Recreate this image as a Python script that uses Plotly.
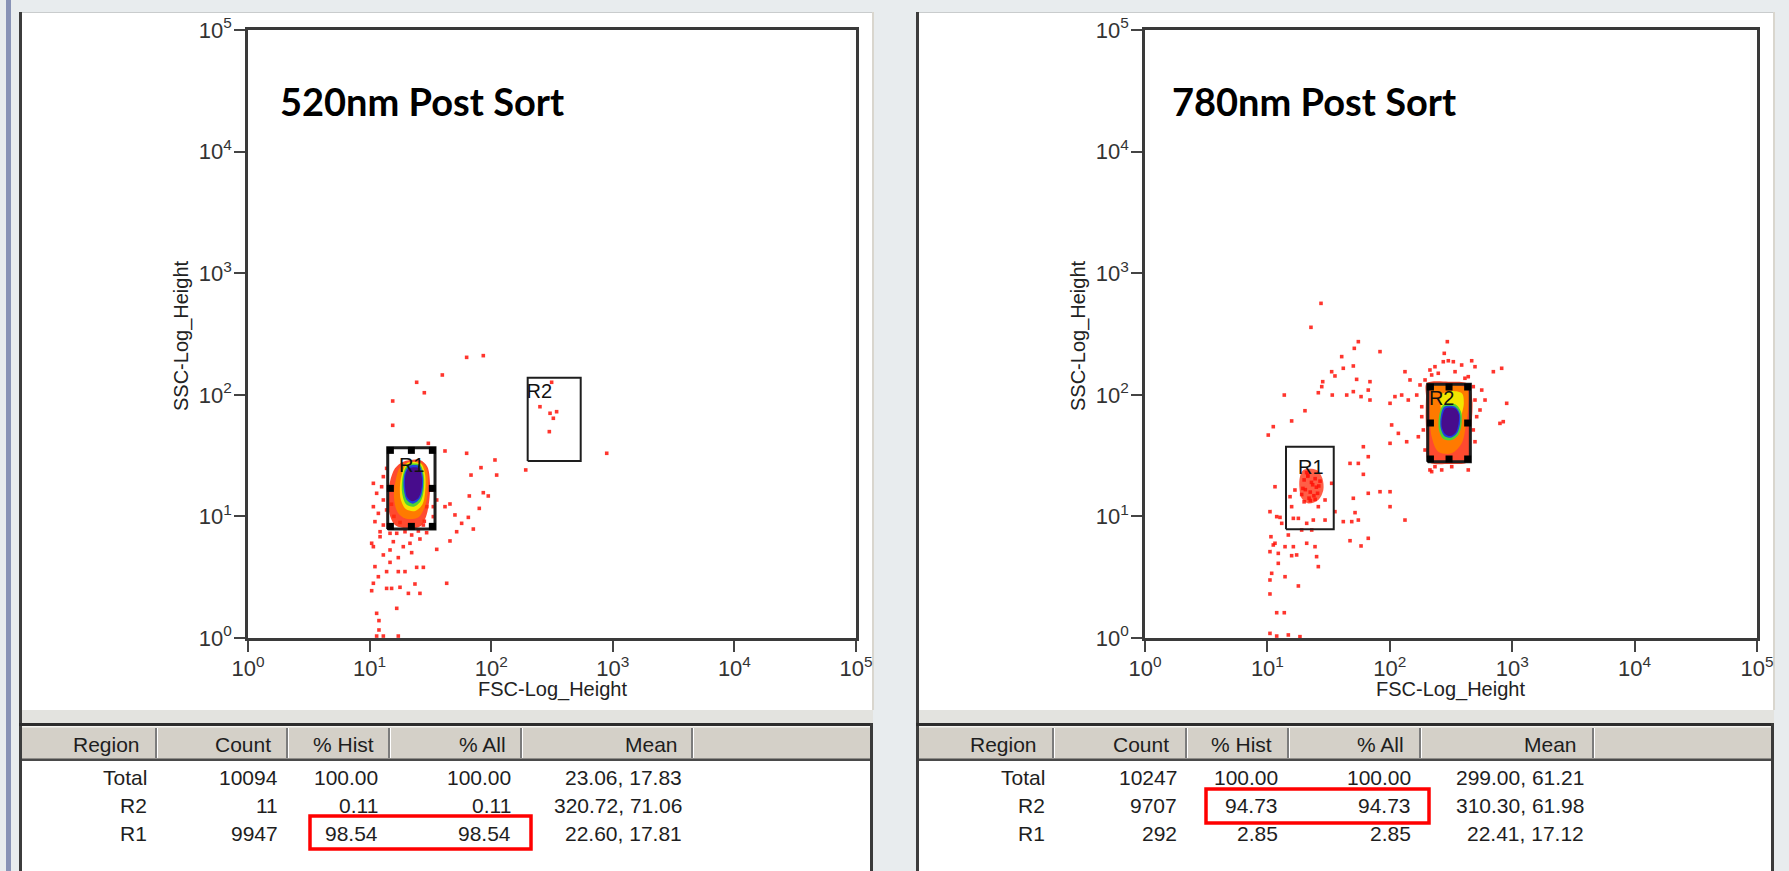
import numpy as np
import plotly.graph_objects as go

W, H = 1789, 871

# ---------------- data (log10 decades) ----------------
left_title = "520nm Post Sort"
right_title = "780nm Post Sort"
x_title = "FSC-Log_Height"
y_title = "SSC-Log_Height"
tick_vals = [1, 10, 100, 1000, 10000, 100000]
tick_text = ["10<sup>0</sup>", "10<sup>1</sup>", "10<sup>2</sup>", "10<sup>3</sup>", "10<sup>4</sup>", "10<sup>5</sup>"]

left_dot_fsc = [1.798, 1.935, 1.598, 1.387, 1.450, 1.190, 1.190, 1.483, 1.620, 1.798, 2.031, 1.916, 1.834, 2.045,
                2.284, 2.950, 1.820, 1.935, 1.976, 1.902, 1.620, 1.661, 1.702, 1.812, 1.757, 1.853, 1.716, 1.661,
                1.552, 1.469, 1.414, 1.346, 1.236, 1.168, 1.086, 1.017, 1.031, 1.113, 1.044, 1.072, 1.140, 1.236,
                1.291, 1.387, 1.442, 1.140, 1.181, 1.250, 1.373, 1.414, 1.319, 1.634, 1.031, 1.017, 1.058, 1.077,
                1.077, 1.058, 1.223, 1.113, 1.236, 1.332, 1.277, 1.195, 1.168, 1.401, 1.524, 1.524, 1.552, 1.031,
                1.058, 1.099, 1.113, 1.031, 1.072, 1.140, 1.044, 1.113, 1.086, 1.168, 1.223, 1.291, 1.346, 1.442,
                1.510, 1.113, 1.140, 2.497, 2.401, 2.484, 2.538, 2.511, 2.478, 1.25, 1.35, 1.45, 1.20, 1.30, 1.40,
                1.18, 1.47]
left_dot_ssc = [2.308, 2.322, 2.163, 2.103, 2.017, 1.949, 1.749, 1.601, 1.538, 1.519, 1.464, 1.401, 1.340, 1.340,
                1.382, 1.519, 1.168, 1.195, 1.168, 1.066, 1.080, 1.102, 1.012, 0.992, 0.943, 0.896, 0.874, 0.798,
                0.729, 0.866, 0.814, 0.702, 0.661, 0.622, 0.833, 0.779, 0.751, 0.683, 0.587, 0.504, 0.546, 0.546,
                0.546, 0.581, 0.581, 0.408, 0.408, 0.417, 0.444, 0.367, 0.367, 0.450, 0.450, 0.389, 0.203, 0.143,
                0.066, 0.016, 0.244, 0.016, 0.016, 0.779, 0.751, 0.792, 0.724, 0.880, 0.998, 1.080, 1.135, 1.272,
                1.190, 1.244, 1.135, 1.080, 1.025, 1.053, 0.957, 0.929, 0.874, 0.861, 0.861, 0.874, 0.847, 0.929,
                1.217, 1.327, 1.395, 2.103, 1.902, 1.848, 1.861, 1.807, 1.697, 0.95, 0.93, 0.96, 1.00, 1.00, 1.02,
                1.10, 1.08]

right_dot_fsc = [1.438, 1.356, 1.743, 1.710, 1.920, 1.607, 1.620, 1.702, 1.525, 1.552, 1.452, 1.444, 1.416, 1.530,
                 1.648, 1.702, 1.765, 1.838, 1.824, 1.838, 1.138, 1.307, 1.198, 1.048, 1.007, 1.729,
                 2.002, 2.042, 2.097, 2.151, 2.220, 2.247, 2.288, 2.342, 2.369, 2.437, 2.478, 2.519, 2.669, 2.696,
                 2.751, 2.778, 2.737, 2.846, 2.914, 2.955, 2.900, 2.927, 2.696, 2.369, 2.328, 2.138, 2.070, 2.015,
                 2.233, 2.261, 2.124, 2.165, 2.470, 2.445, 2.641, 2.261, 2.002,
                 2.328, 2.396, 2.533, 2.587, 2.614, 2.682, 2.696, 2.710, 2.682, 2.641, 2.288, 2.274, 2.342, 2.506,
                 2.424,
                 1.784, 1.824, 1.675, 1.743, 1.784, 1.920, 2.002, 1.824, 1.702, 2.002, 1.716, 1.620, 1.689, 1.743,
                 2.124, 1.675, 1.824, 1.765,
                 1.062, 1.021, 1.076, 1.103, 1.212, 1.253, 1.029, 1.048, 1.021, 1.089, 1.144, 1.212, 1.198, 1.239,
                 1.089, 1.402, 1.416, 1.035, 1.144, 1.021, 1.253, 1.021, 1.076, 1.138, 1.021, 1.076, 1.171, 1.266,
                 1.280, 1.362, 1.389, 1.471, 1.525, 1.552, 1.321, 1.117, 1.171, 1.062,
                 1.198, 1.416, 1.375, 1.225, 1.471, 1.321, 1.185,
                 1.30, 1.33, 1.36, 1.39, 1.42, 1.31, 1.35, 1.40, 1.28, 1.34, 1.38, 1.43, 1.32, 1.37, 1.29, 1.41,
                 1.35, 1.30, 1.39, 1.33]
right_dot_ssc = [2.752, 2.555, 2.437, 2.382, 2.355, 2.314, 2.218, 2.237, 2.190, 2.155, 2.108, 2.067, 2.017, 1.998,
                 1.998, 2.026, 1.985, 2.108, 2.039, 1.957, 1.998, 1.869, 1.785, 1.738, 1.669, 2.127,
                 1.930, 1.985, 1.998, 1.957, 1.998, 2.081, 2.122, 2.163, 2.231, 2.272, 2.280, 2.272, 2.280, 2.231,
                 2.039, 1.957, 1.875, 2.190, 2.218, 1.930, 1.765, 1.779, 1.614, 1.409, 1.382, 1.614, 1.683, 1.752,
                 1.655, 1.902, 2.190, 2.122, 2.437, 2.341, 2.149, 1.820, 1.601,
                 2.204, 2.177, 2.190, 2.245, 2.136, 2.067, 1.957, 1.820, 1.711, 1.382, 1.546, 1.711, 1.368, 1.409,
                 1.382,
                 1.573, 1.491, 1.436, 1.436, 1.346, 1.203, 1.203, 1.190, 1.149, 1.080, 1.031, 0.957, 0.957, 0.970,
                 0.970, 0.800, 0.820, 0.757,
                 1.244, 1.039, 0.998, 0.992, 0.984, 0.984, 0.833, 0.765, 0.710, 0.696, 0.751, 0.751, 0.677, 0.683,
                 0.614, 0.669, 0.587, 0.532, 0.504, 0.477, 0.428, 0.362, 0.208, 0.208, 0.038, 0.016, 0.025, 0.011,
                 0.888, 0.888, 0.751, 0.970, 1.272, 1.039, 0.779, 0.943, 0.847, 0.779,
                 1.080, 1.080, 0.970, 1.217, 1.135, 0.943, 1.162,
                 1.30, 1.33, 1.28, 1.31, 1.25, 1.22, 1.20, 1.24, 1.18, 1.15, 1.17, 1.29, 1.36, 1.26, 1.23, 1.19,
                 1.13, 1.12, 1.14, 1.34]

# density contour outlines (log10 decades), outer -> inner
left_red_fsc = [1.277, 1.414, 1.475, 1.497, 1.491, 1.464, 1.414, 1.305, 1.209, 1.162, 1.154, 1.168, 1.209]
left_red_ssc = [1.450, 1.464, 1.409, 1.272, 1.135, 0.998, 0.916, 0.902, 0.929, 1.025, 1.162, 1.286, 1.395]
left_orange_fsc = [1.300, 1.420, 1.470, 1.480, 1.462, 1.405, 1.300, 1.230, 1.200, 1.215, 1.245]
left_orange_ssc = [1.440, 1.446, 1.382, 1.244, 1.107, 0.995, 0.980, 1.035, 1.162, 1.299, 1.395]
left_yellow_fsc = [1.310, 1.420, 1.455, 1.458, 1.435, 1.375, 1.300, 1.255, 1.253, 1.278]
left_yellow_ssc = [1.440, 1.435, 1.354, 1.217, 1.100, 1.045, 1.058, 1.145, 1.286, 1.385]
left_green_fsc = [1.318, 1.415, 1.445, 1.445, 1.420, 1.362, 1.300, 1.268, 1.268, 1.288]
left_green_ssc = [1.428, 1.425, 1.340, 1.217, 1.125, 1.080, 1.100, 1.188, 1.299, 1.385]
left_blue_fsc = [1.325, 1.410, 1.438, 1.435, 1.412, 1.356, 1.306, 1.280, 1.282, 1.298]
left_blue_ssc = [1.415, 1.413, 1.327, 1.217, 1.145, 1.105, 1.135, 1.231, 1.327, 1.380]
left_purple_fsc = [1.332, 1.404, 1.430, 1.425, 1.400, 1.350, 1.310, 1.290, 1.295, 1.310]
left_purple_ssc = [1.400, 1.398, 1.315, 1.217, 1.150, 1.125, 1.155, 1.258, 1.340, 1.382]

right_r1_red_fsc = [1.294, 1.402, 1.449, 1.457, 1.416, 1.334, 1.280, 1.261, 1.266]
right_r1_red_ssc = [1.382, 1.382, 1.313, 1.217, 1.135, 1.107, 1.149, 1.244, 1.327]
right_red_fsc = [2.301, 2.478, 2.641, 2.674, 2.669, 2.655, 2.641, 2.478, 2.315, 2.301, 2.293, 2.296]
right_red_ssc = [2.094, 2.108, 2.089, 1.957, 1.765, 1.573, 1.450, 1.431, 1.450, 1.628, 1.820, 1.985]
right_orange_fsc = [2.342, 2.506, 2.628, 2.641, 2.620, 2.587, 2.506, 2.396, 2.342, 2.328, 2.328]
right_orange_ssc = [2.067, 2.081, 2.053, 1.902, 1.738, 1.601, 1.519, 1.532, 1.655, 1.820, 1.957]
right_yellow_fsc = [2.420, 2.500, 2.590, 2.605, 2.585, 2.560, 2.500, 2.440, 2.420]
right_yellow_ssc = [2.000, 2.030, 2.010, 1.930, 1.830, 1.740, 1.690, 1.730, 1.860]
right_green_fsc = [2.437, 2.533, 2.582, 2.587, 2.560, 2.506, 2.437, 2.402, 2.402]
right_green_ssc = [1.916, 1.922, 1.861, 1.765, 1.669, 1.628, 1.637, 1.711, 1.820]
right_blue_fsc = [2.445, 2.533, 2.571, 2.574, 2.549, 2.500, 2.445, 2.416, 2.416]
right_blue_ssc = [1.902, 1.902, 1.848, 1.765, 1.683, 1.647, 1.661, 1.724, 1.820]
right_purple_fsc = [2.457, 2.538, 2.565, 2.560, 2.538, 2.494, 2.451, 2.424, 2.429]
right_purple_ssc = [1.889, 1.886, 1.834, 1.752, 1.688, 1.661, 1.678, 1.738, 1.826]

# gates: [fsc_lo, fsc_hi, ssc_lo, ssc_hi] in log10 decades
left_gate_r1 = [1.149, 1.538, 0.896, 1.565]
left_gate_r2 = [2.300, 2.736, 1.456, 2.141]
right_gate_r1 = [1.152, 1.542, 0.894, 1.573]
right_gate_r2 = [2.310, 2.658, 1.450, 2.086]

# statistics tables
table_headers = ["Region", "Count", "% Hist", "% All", "Mean"]
table_regions = ["Total", "R2", "R1"]
left_counts = [10094, 11, 9947]
left_pct_hist = [100.00, 0.11, 98.54]
left_pct_all = [100.00, 0.11, 98.54]
left_mean_fsc = [23.06, 320.72, 22.60]
left_mean_ssc = [17.83, 71.06, 17.81]
right_counts = [10247, 9707, 292]
right_pct_hist = [100.00, 94.73, 2.85]
right_pct_all = [100.00, 94.73, 2.85]
right_mean_fsc = [299.00, 310.30, 22.41]
right_mean_ssc = [61.21, 61.98, 17.12]

# ---------------- figure ----------------
def X(p):
    return p / W


def Y(p):
    return 1 - p / H


def lin(v):
    return np.power(10.0, np.asarray(v, dtype=float))


fig = go.Figure()

RED = "#ff1208"
COLS = {"red": "#ff2a0a", "orange": "#ff7a00", "yellow": "#f2e600", "green": "#4cd235",
        "blue": "#1e40e0", "purple": "#470c8c"}


def add_poly(xs, ys, color, ax, opacity=1.0):
    fig.add_trace(go.Scatter(x=lin(xs + xs[:1]), y=lin(ys + ys[:1]), mode="lines", fill="toself",
                             fillcolor=color, opacity=opacity,
                             line=dict(width=0, color=color, shape="spline", smoothing=0.9),
                             hoverinfo="skip", showlegend=False, xaxis=ax[0], yaxis=ax[1]))


def add_dots(xs, ys, ax):
    fig.add_trace(go.Scatter(x=lin(xs), y=lin(ys), mode="markers",
                             marker=dict(symbol="square", size=3.6, color=RED, opacity=0.85, line=dict(width=0)),
                             hoverinfo="skip", showlegend=False, xaxis=ax[0], yaxis=ax[1]))


def add_gate(g, ax, width, handles):
    x0, x1, y0, y1 = g
    fig.add_trace(go.Scatter(x=lin([x0, x1, x1, x0, x0]), y=lin([y0, y0, y1, y1, y0]), mode="lines",
                             line=dict(color="#1e1e1e", width=width), hoverinfo="skip", showlegend=False,
                             xaxis=ax[0], yaxis=ax[1]))
    if handles:
        d = 0.022
        xm, ym = (x0 + x1) / 2, (y0 + y1) / 2
        hx = [x0 + d, xm, x1 - d, x0 + d, x1 - d, x0 + d, xm, x1 - d]
        hy = [y1 - d, y1 - d, y1 - d, ym, ym, y0 + d, y0 + d, y0 + d]
        fig.add_trace(go.Scatter(x=lin(hx), y=lin(hy), mode="markers",
                                 marker=dict(symbol="square", size=7, color="#000000", line=dict(width=0)),
                                 hoverinfo="skip", showlegend=False, xaxis=ax[0], yaxis=ax[1]))


def add_label(txt, x, y, ax, pos="middle center"):
    fig.add_trace(go.Scatter(x=lin([x]), y=lin([y]), mode="text", text=[txt], textposition=pos,
                             textfont=dict(family="Liberation Sans", size=20, color="#111111"),
                             hoverinfo="skip", showlegend=False, xaxis=ax[0], yaxis=ax[1]))


LA = ("x", "y")
RA = ("x2", "y2")

# left panel
add_dots(left_dot_fsc, left_dot_ssc, LA)
add_poly(left_red_fsc, left_red_ssc, COLS["red"], LA, 0.85)
add_poly(left_orange_fsc, left_orange_ssc, COLS["orange"], LA)
add_poly(left_yellow_fsc, left_yellow_ssc, COLS["yellow"], LA)
add_poly(left_green_fsc, left_green_ssc, COLS["green"], LA)
add_poly(left_blue_fsc, left_blue_ssc, COLS["blue"], LA)
add_poly(left_purple_fsc, left_purple_ssc, COLS["purple"], LA)
add_label("R1", 1.346, 1.409, LA)
add_label("R2", left_gate_r2[0] - 0.01, 2.012, LA, "middle right")
add_gate(left_gate_r1, LA, 3, True)
add_gate(left_gate_r2, LA, 2, False)

# right panel
add_poly(right_r1_red_fsc, right_r1_red_ssc, COLS["red"], RA, 0.75)
add_dots(right_dot_fsc, right_dot_ssc, RA)
add_poly(right_red_fsc, right_red_ssc, COLS["red"], RA, 0.85)
add_poly(right_orange_fsc, right_orange_ssc, COLS["orange"], RA)
add_poly(right_yellow_fsc, right_yellow_ssc, COLS["yellow"], RA)
add_poly(right_green_fsc, right_green_ssc, COLS["green"], RA)
add_poly(right_blue_fsc, right_blue_ssc, COLS["blue"], RA)
add_poly(right_purple_fsc, right_purple_ssc, COLS["purple"], RA)
add_label("R1", 1.354, 1.390, RA)
add_label("R2", 2.424, 1.957, RA)
add_gate(right_gate_r1, RA, 2, False)
add_gate(right_gate_r2, RA, 3, True)

axis_common = dict(type="log", range=[0, 5], tickvals=tick_vals, ticktext=tick_text,
                   showline=True, mirror=True, linecolor="#3a3a3a", linewidth=2.5,
                   ticks="outside", ticklen=11, tickwidth=2, tickcolor="#444444",
                   showgrid=False, zeroline=False, fixedrange=True, automargin=False,
                   ticklabelstandoff=-2,
                   tickfont=dict(family="Liberation Sans", size=22, color="#333333"))

ydom = [Y(638), Y(30)]
fig.update_layout(
    xaxis=dict(domain=[X(248), X(856)], anchor="y", **axis_common),
    yaxis=dict(domain=ydom, anchor="x", **axis_common),
    xaxis2=dict(domain=[X(1145), X(1757)], anchor="y2", **axis_common),
    yaxis2=dict(domain=ydom, anchor="x2", **axis_common),
)

shapes = []


def rect(x0, y0, x1, y1, fill, line_w=0, line_c=None, layer="below"):
    shapes.append(dict(type="rect", xref="paper", yref="paper", x0=X(x0), x1=X(x1), y0=Y(y1), y1=Y(y0),
                       fillcolor=fill, line=dict(width=line_w, color=line_c or fill), layer=layer))


# window chrome
rect(6, 0, 11, 871, "#8893b6")
for (dl, wl, wr) in [(19, 22, 873), (916, 919, 1774)]:
    rect(dl, 12, wl, 871, "#3c3c3c")          # dark left border
    rect(wl, 12, wr, 710, "#ffffff")          # white plot panel
    rect(wl, 12, wr, 13, "#c9cccd")           # top edge
    rect(wr - 1, 12, wr + 1, 710, "#d9d6ce")  # right highlight
    rect(wl, 710, wr, 723, "#e3e3df")         # band above table
    rect(dl, 723, wr, 726, "#2c2c2c")         # table top border
    rect(wr - 3, 723, wr, 871, "#3a3a3a")     # table right border
    rect(wl, 726, wr - 3, 760, "#d4d0c8")     # header fill
    rect(wl, 726, wr - 3, 727.5, "#f4f3ef")   # header highlight
    rect(wl, 758.5, wr - 3, 761, "#4a4a4a")   # header bottom line
    rect(wl, 761, wr - 3, 871, "#ffffff")     # rows

col_seps = {"left": [156, 287, 389, 521, 692], "right": [1053, 1186, 1288, 1420, 1593]}
for side in col_seps:
    for cx in col_seps[side]:
        rect(cx - 1, 728, cx + 1, 758, "#7c7c7c")
        rect(cx + 1, 728, cx + 2, 758, "#ffffff")

# highlight boxes
for (x0, y0, x1, y1) in [(310, 816, 531, 849), (1206, 789, 1429, 823)]:
    shapes.append(dict(type="rect", xref="paper", yref="paper", x0=X(x0), x1=X(x1), y0=Y(y1), y1=Y(y0),
                       fillcolor="rgba(0,0,0,0)", line=dict(width=3.5, color="#ff0000"), layer="above"))

fig.update_layout(shapes=shapes)

ann = []
TF = dict(family="Liberation Sans", size=21, color="#1e1e1e")


def txt(s, x, y, anchor="right", font=TF, angle=0):
    ann.append(dict(text=s, x=X(x), y=Y(y), xref="paper", yref="paper", showarrow=False,
                    xanchor=anchor, yanchor="middle", font=font, textangle=angle))


# titles
tfont = dict(family="Lato", size=38, color="#000000")
txt("<b>" + left_title + "</b>", 278, 101, "left", tfont)
txt("<b>" + right_title + "</b>", 1170, 101, "left", tfont)

# axis titles
axf = dict(family="Liberation Sans", size=20, color="#222222")
txt(x_title, 552, 689, "center", axf)
txt(x_title, 1450, 689, "center", axf)
txt(y_title, 181, 336, "center", axf, -90)
txt(y_title, 1078, 336, "center", axf, -90)

# tables
head_y = 744
row_y = [777, 805, 833]
layouts = {
    "left": dict(head=[142, 273, 376, 508, 680], vals=[149, 280, 380, 513, 684],
                 counts=left_counts, hist=left_pct_hist, all=left_pct_all,
                 mf=left_mean_fsc, ms=left_mean_ssc),
    "right": dict(head=[1039, 1171, 1274, 1406, 1579], vals=[1047, 1179, 1280, 1413, 1586],
                  counts=right_counts, hist=right_pct_hist, all=right_pct_all,
                  mf=right_mean_fsc, ms=right_mean_ssc),
}
for side, L in layouts.items():
    for h, hx in zip(table_headers, L["head"]):
        txt(h, hx, head_y)
    for i, reg in enumerate(table_regions):
        cells = [reg, str(L["counts"][i]), f"{L['hist'][i]:.2f}", f"{L['all'][i]:.2f}",
                 f"{L['mf'][i]:.2f}, {L['ms'][i]:.2f}"]
        for c, vx in zip(cells, L["vals"]):
            txt(c, vx, row_y[i])

fig.update_layout(annotations=ann)

fig.update_layout(width=W, height=H, autosize=False, margin=dict(l=0, r=0, t=0, b=0, pad=0, autoexpand=False),
                  paper_bgcolor="#e8ecee", plot_bgcolor="rgba(0,0,0,0)", showlegend=False,
                  font=dict(family="Liberation Sans"))

page_fix = "document.body.style.margin='0';document.body.style.background='#e8ecee';document.body.style.overflow='hidden';"
fig.write_html("out.html", config={"displayModeBar": False}, post_script=page_fix)
